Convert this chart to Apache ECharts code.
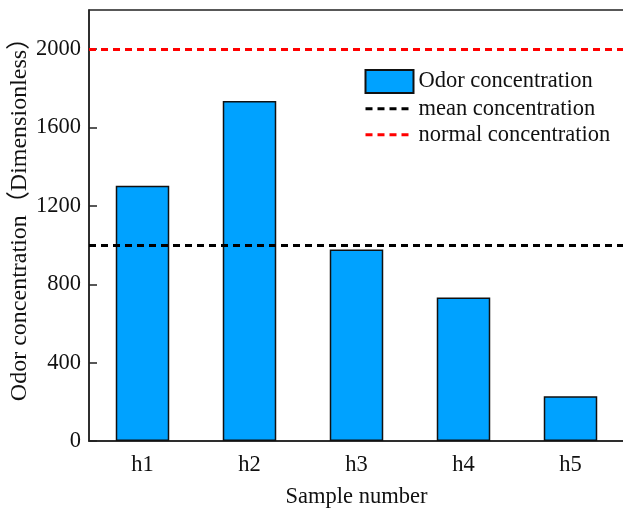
<!DOCTYPE html>
<html>
<head>
<meta charset="utf-8">
<script src="https://cdn.jsdelivr.net/npm/echarts@6/dist/echarts.min.js"></script>
<style>html,body{margin:0;padding:0;background:#fff}#c{width:623px;height:511px}</style>
</head>
<body>
<div id="c"></div>
<script>
const categories = ['h1', 'h2', 'h3', 'h4', 'h5'];
const odorValues = [1303, 1735, 977, 733, 229];
const yTicks = [0, 400, 800, 1200, 1600, 2000];
const lineNames = ['mean concentration', 'normal concentration'];
const lineValues = [1000, 2000];
const lineColors = ['#000000', '#ff0000'];

const FONT = '"Liberation Serif", "Times New Roman", "Noto Sans CJK SC", serif';
const FS = 22.5;
const chart = echarts.init(document.getElementById('c'));

const lineSeries = lineNames.map((n, i) => ({
  name: n,
  type: 'line',
  data: [],
  symbol: 'none',
  lineStyle: { color: lineColors[i], type: [7, 5], width: 3 },
  itemStyle: { color: lineColors[i] },
  markLine: {
    silent: true,
    symbol: ['none', 'none'],
    label: { show: false },
    lineStyle: { color: lineColors[i], type: [7, 5], width: 3 },
    data: [{ yAxis: lineValues[i] }]
  }
}));

chart.setOption({
  animation: false,
  grid: { left: 89, top: 10, width: 535, height: 431, show: true, borderColor: '#222', borderWidth: 1.5, backgroundColor: 'transparent', containLabel: false, outerBoundsMode: 'none' },
  legend: {
    left: 364,
    top: 69,
    padding: 0,
    orient: 'vertical',
    itemWidth: 48,
    itemHeight: 23,
    itemGap: 3.5,
    lineStyle: { width: 3 },
    textStyle: { fontFamily: FONT, fontSize: FS, color: '#111' },
    data: [
      { name: 'Odor concentration', icon: 'rect' },
      { name: lineNames[0], itemStyle: { opacity: 0 }, lineStyle: { width: 3, type: [7, 5] } },
      { name: lineNames[1], itemStyle: { opacity: 0 }, lineStyle: { width: 3, type: [7, 5] } }
    ]
  },
  xAxis: {
    type: 'category',
    data: categories,
    name: 'Sample number',
    nameLocation: 'middle',
    nameGap: 45,
    nameTextStyle: { fontFamily: FONT, fontSize: FS, color: '#111' },
    axisLine: { lineStyle: { color: '#222', width: 1.5 } },
    axisTick: { inside: true, alignWithLabel: true, length: 7, lineStyle: { color: '#222', width: 1.5 } },
    axisLabel: { fontFamily: FONT, fontSize: FS, color: '#111', margin: 13 }
  },
  yAxis: {
    type: 'value',
    min: 0,
    max: 2200,
    interval: 400,
    name: 'Odor concentration（Dimensionless）',
    nameLocation: 'middle',
    nameGap: 57,
    nameMoveOverlap: false,
    nameTextStyle: { fontFamily: FONT, fontSize: 24, color: '#111', padding: [0, 0, 0, 24] },
    splitLine: { show: false },
    axisLine: { show: true, lineStyle: { color: '#222', width: 1.5 } },
    axisTick: { show: true, inside: true, length: 8, customValues: yTicks, lineStyle: { color: '#222', width: 1.5 } },
    axisLabel: { fontFamily: FONT, fontSize: FS, color: '#111', margin: 8, customValues: yTicks, formatter: v => String(v) }
  },
  series: [
    {
      name: 'Odor concentration',
      type: 'bar',
      data: odorValues,
      barWidth: '50%',
      itemStyle: { color: '#00a2ff', borderColor: '#111', borderWidth: 1.5 }
    }
  ].concat(lineSeries)
});
</script>
</body>
</html>
